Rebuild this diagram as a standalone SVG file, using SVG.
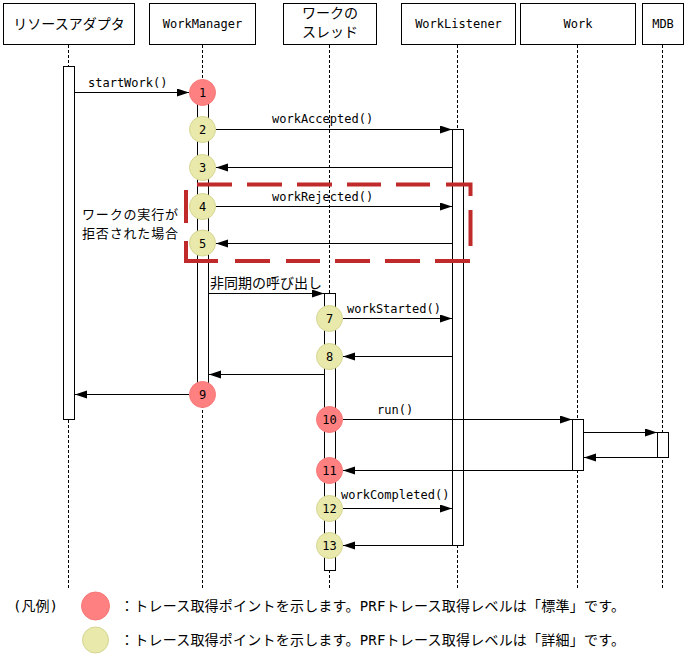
<svg xmlns="http://www.w3.org/2000/svg" width="685" height="656" viewBox="0 0 685 656">
<defs>
<marker id="ah" markerUnits="userSpaceOnUse" markerWidth="13" markerHeight="9" refX="12" refY="4" orient="auto">
<path d="M0,0 L12,4 L0,8 z" fill="#000"/>
</marker>
<style>
.box{fill:#fff;stroke:#000;stroke-width:1}
.life{stroke:#000;stroke-width:1;stroke-dasharray:3 2;fill:none}
.bar{fill:#fff;stroke:#000;stroke-width:1}
.msg{stroke:#000;stroke-width:1;fill:none;marker-end:url(#ah)}
.lat{font-family:"DejaVu Sans Mono","Liberation Mono",monospace;font-size:12px;fill:#000}
.jp{font-family:"Noto Sans CJK JP","DejaVu Sans",sans-serif;font-size:14px;fill:#000}
.jps{font-family:"Noto Sans CJK JP","DejaVu Sans",sans-serif;font-size:13px;fill:#000}
.mix{font-family:"DejaVu Sans Mono","Noto Sans CJK JP",monospace;font-size:14px;fill:#000}
.mid{text-anchor:middle}
.std{fill:#ff8080;stroke:#f77878;stroke-width:1}
.det{fill:#e9e9ab;stroke:#d5d592;stroke-width:1}
.frag{stroke:#c02a2a;stroke-width:4;fill:none;stroke-linejoin:miter}
</style>
</defs>

<g id="ra">
<rect class="box" x="3.5" y="3.5" width="131" height="41"/>
<text class="jp mid" x="69" y="29">リソースアダプタ</text>
<line class="life" x1="68.5" y1="45" x2="68.5" y2="590"/>
<rect class="bar" x="63.5" y="66.5" width="11" height="353"/>
</g>

<g id="workmanager">
<rect class="box" x="149.5" y="3.5" width="106" height="41"/>
<text class="lat mid" x="202.5" y="28">WorkManager</text>
<line class="life" x1="202.5" y1="45" x2="202.5" y2="590"/>
<rect class="bar" x="197.5" y="92.5" width="11" height="302"/>
</g>

<g id="thread">
<rect class="box" x="283.5" y="3.5" width="93" height="41"/>
<text class="jp mid" x="330" y="18">ワークの</text>
<text class="jp mid" x="330" y="37">スレッド</text>
<line class="life" x1="329.5" y1="45" x2="329.5" y2="590"/>
<rect class="bar" x="324.5" y="293.5" width="11" height="277"/>
</g>

<g id="worklistener">
<rect class="box" x="401.5" y="3.5" width="114" height="41"/>
<text class="lat mid" x="458.5" y="28">WorkListener</text>
<line class="life" x1="457.5" y1="45" x2="457.5" y2="590"/>
<rect class="bar" x="452.5" y="129.5" width="11" height="416"/>
</g>

<g id="work">
<rect class="box" x="520.5" y="3.5" width="115" height="41"/>
<text class="lat mid" x="578" y="28">Work</text>
<line class="life" x1="577.5" y1="45" x2="577.5" y2="590"/>
<rect class="bar" x="572.5" y="419.5" width="11" height="51"/>
</g>

<g id="mdb">
<rect class="box" x="642.5" y="3.5" width="41" height="41"/>
<text class="lat mid" x="663" y="28">MDB</text>
<line class="life" x1="662.5" y1="45" x2="662.5" y2="590"/>
<rect class="bar" x="657.5" y="432.5" width="11" height="25"/>
</g>

<g id="rejected-fragment">
<path class="frag" d="M197,184.5 H232 M247,184.5 H282 M297,184.5 H332 M347,184.5 H381 M396,184.5 H430 M446,184.5 H470.5 V196 M470.5,210 V246 M470,261 H435 M420,261 H385 M370,261 H335 M320,261 H286 M270,261 H235 M218,261 H186 V241 M186,223 V190"/>
<text class="jps" x="82" y="219" textLength="96">ワークの実行が</text>
<text class="jps" x="82" y="238" textLength="96">拒否された場合</text>
</g>

<g id="connectors">
<line class="msg" x1="75" y1="92.5" x2="189" y2="92.5"/>
<text class="lat" x="88" y="87">startWork()</text>
<line class="msg" x1="216" y1="129.5" x2="452" y2="129.5"/>
<text class="lat" x="272" y="123">workAccepted()</text>
<line class="msg" x1="452" y1="167.5" x2="216" y2="167.5"/>
<line class="msg" x1="216" y1="206.5" x2="452" y2="206.5"/>
<text class="lat" x="272" y="201">workRejected()</text>
<line class="msg" x1="452" y1="243.5" x2="216" y2="243.5"/>
<line class="msg" x1="209" y1="293.5" x2="324" y2="293.5"/>
<text class="jp" x="210" y="288">非同期の呼び出し</text>
<line class="msg" x1="343" y1="318.5" x2="452" y2="318.5"/>
<text class="lat" x="347" y="313">workStarted()</text>
<line class="msg" x1="452" y1="356.5" x2="343" y2="356.5"/>
<line class="msg" x1="324" y1="374.5" x2="209" y2="374.5"/>
<line class="msg" x1="189" y1="394.5" x2="75" y2="394.5"/>
<line class="msg" x1="343" y1="419.5" x2="572" y2="419.5"/>
<text class="lat" x="377" y="414">run()</text>
<line class="msg" x1="584" y1="432.5" x2="657" y2="432.5"/>
<line class="msg" x1="657" y1="457.5" x2="584" y2="457.5"/>
<line class="msg" x1="572" y1="470.5" x2="343" y2="470.5"/>
<line class="msg" x1="343" y1="508.5" x2="452" y2="508.5"/>
<text class="lat" x="341" y="499">workCompleted()</text>
<line class="msg" x1="452" y1="545.5" x2="343" y2="545.5"/>
</g>

<g id="p1"><circle class="std" cx="202.5" cy="92.5" r="13"/><text class="lat mid" x="202.5" y="97">1</text></g>
<g id="p2"><circle class="det" cx="202.5" cy="129.5" r="13"/><text class="lat mid" x="202.5" y="134">2</text></g>
<g id="p3"><circle class="det" cx="202.5" cy="167.5" r="13"/><text class="lat mid" x="202.5" y="172">3</text></g>
<g id="p4"><circle class="det" cx="202.5" cy="206.5" r="13"/><text class="lat mid" x="202.5" y="211">4</text></g>
<g id="p5"><circle class="det" cx="202.5" cy="243" r="13"/><text class="lat mid" x="202.5" y="247.5">5</text></g>
<g id="p7"><circle class="det" cx="329.5" cy="318.5" r="13"/><text class="lat mid" x="329.5" y="323">7</text></g>
<g id="p8"><circle class="det" cx="329.5" cy="356.5" r="13"/><text class="lat mid" x="329.5" y="361">8</text></g>
<g id="p9"><circle class="std" cx="202.5" cy="394.5" r="13"/><text class="lat mid" x="202.5" y="399">9</text></g>
<g id="p10"><circle class="std" cx="329.5" cy="419.5" r="13"/><text class="lat mid" x="329.5" y="424">10</text></g>
<g id="p11"><circle class="std" cx="329.5" cy="470.5" r="13"/><text class="lat mid" x="329.5" y="475">11</text></g>
<g id="p12"><circle class="det" cx="329.5" cy="508.5" r="13"/><text class="lat mid" x="329.5" y="513">12</text></g>
<g id="p13"><circle class="det" cx="329.5" cy="545.5" r="13"/><text class="lat mid" x="329.5" y="550">13</text></g>

<g id="legend">
<text class="mix" x="13" y="611">(凡例)</text>
<circle class="std" cx="95.5" cy="606" r="14"/>
<text class="mix" x="120" y="611" textLength="505">：トレース取得ポイントを示します。PRFトレース取得レベルは「標準」です。</text>
<circle class="det" cx="95.5" cy="640" r="13"/>
<text class="mix" x="120" y="645" textLength="505">：トレース取得ポイントを示します。PRFトレース取得レベルは「詳細」です。</text>
</g>
</svg>
